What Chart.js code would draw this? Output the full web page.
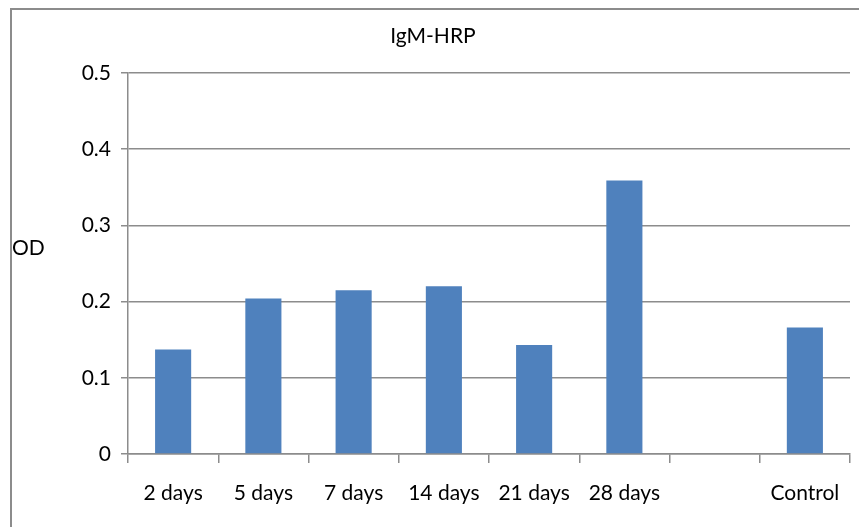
<!DOCTYPE html>
<html>
<head>
<meta charset="utf-8">
<script src="https://cdn.jsdelivr.net/npm/chart.js@4"></script>
<style>
  html, body { margin: 0; padding: 0; background: #fff; }
  #wrap { width: 859px; height: 527px; position: relative; }
</style>
</head>
<body>
<div id="wrap"><canvas id="c" width="859" height="527"></canvas></div>
<script>
// IgM-HRP optical density by sampling time
const categories = ['2 days', '5 days', '7 days', '14 days', '21 days', '28 days', '', 'Control'];
const odValues   = [0.137, 0.204, 0.215, 0.220, 0.143, 0.359, null, 0.166];
const yTicks     = [0, 0.1, 0.2, 0.3, 0.4, 0.5];
const chartTitle = 'IgM-HRP';
const yLabel     = 'OD';

const GRID = '#8c8c8c';
const FONT = 'Lato, "Liberation Sans", sans-serif';

// outer frame, title and horizontal axis caption
const decor = {
  id: 'decor',
  beforeDraw(chart) {
    const ctx = chart.ctx;
    ctx.save();
    ctx.strokeStyle = GRID;
    ctx.lineWidth = 2;
    ctx.beginPath();
    ctx.moveTo(11, chart.height);
    ctx.lineTo(11, 9);
    ctx.lineTo(chart.width, 9);
    ctx.stroke();
    ctx.restore();
  },
  afterDraw(chart) {
    const ctx = chart.ctx;
    ctx.save();
    ctx.fillStyle = '#000';
    ctx.textBaseline = 'middle';
    ctx.textAlign = 'center';
    ctx.font = '21px ' + FONT;
    ctx.fillText(chartTitle, 433, 36);
    ctx.textAlign = 'left';
    ctx.font = '21px ' + FONT;
    ctx.fillText(yLabel, 12, 248);
    ctx.restore();
  }
};

new Chart(document.getElementById('c'), {
  type: 'bar',
  data: {
    labels: categories,
    datasets: [{
      data: odValues,
      backgroundColor: '#4f81bd',
      borderWidth: 0,
      barPercentage: 0.4,
      categoryPercentage: 1.0
    }]
  },
  options: {
    responsive: false,
    animation: false,
    devicePixelRatio: 1,
    layout: { padding: { top: 73, right: 9, left: 0, bottom: 0 } },
    plugins: { legend: { display: false }, title: { display: false }, tooltip: { enabled: false } },
    scales: {
      x: {
        grid: { offset: true, drawOnChartArea: false, drawTicks: true, tickLength: 9, color: GRID, lineWidth: 1.5 },
        border: { color: GRID, width: 1.5 },
        ticks: { color: '#000', font: { family: FONT, size: 21 }, padding: 18, maxRotation: 0, autoSkip: false },
        afterFit(scale) { scale.height = 73; }
      },
      y: {
        min: 0,
        max: 0.5,
        afterBuildTicks(scale) { scale.ticks = yTicks.map(v => ({ value: v })); },
        grid: { color: GRID, lineWidth: 1.5, drawTicks: true, tickLength: 7 },
        border: { color: GRID, width: 1.5 },
        ticks: {
          color: '#000',
          font: { family: FONT, size: 21 },
          padding: 10,
          callback: v => String(+Number(v).toFixed(1))
        },
        afterFit(scale) { scale.width = 128; }
      }
    }
  },
  plugins: [decor]
});
</script>
</body>
</html>
